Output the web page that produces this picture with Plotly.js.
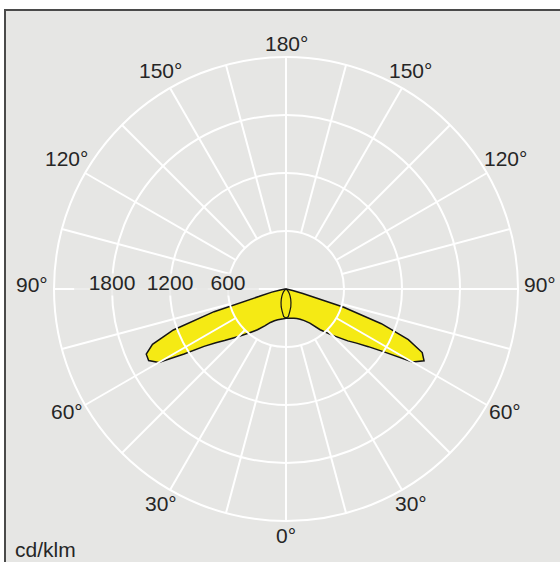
<!DOCTYPE html>
<html><head><meta charset="utf-8">
<script src="https://cdn.plot.ly/plotly-3.0.1.min.js"></script>
<style>html,body{margin:0;padding:0;background:#fff}#chart{width:560px;height:562px}</style>
</head><body><div id="chart"></div>
<script>
// Vertical angle gamma (deg) and luminous intensity (cd/klm)
const gammaMain = [0,5,10,15,20,25,30,35,40,45,50,52.5,55,57.5,60,62.5,65,67.5,70,72.5,75,77.5,80,85,90];
const intensityC0   = [302,304,308,314,326,346,378,430,550,675,835,920,1040,1220,1510,1610,1555,1370,1050,620,180,70,25,5,0];
const intensityC180 = [302,310,318,330,350,382,440,515,595,695,830,915,1035,1250,1520,1602,1595,1495,1240,780,260,150,60,10,0];
const gammaLens = [0,5,10,15,20,25,30,35,40,45,50,55,60];
const intensityC90  = [303,285,232,192,150,115,85,62,42,25,12,5,0];
const intensityC270 = [303,285,232,192,150,115,85,62,42,25,12,5,0];

// grid and labels
const gridAngles = [0,15,30,45,60,75,90,105,120,135,150,165,180,195,210,225,240,255,270,285,300,315,330,345];
const angLabelVals = [0,30,60,90,120,150,180,210,240,270,300,330];
const angLabelText = ['0°','30°','60°','90°','120°','150°','180°','150°','120°','90°','60°','30°'];
const radialTicks = [600,1200,1800,2400];
const radialLabelVals = [600,1200,1800];
const radialLabelText = ['600','1200','1800'];
const unitLabel = 'cd/klm';

// build closed outlines: right half theta = gamma, left half theta = 360 - gamma
const fillTheta = [], fillR = [];
for (let i = gammaMain.length - 1; i >= 0; i--) { fillTheta.push(gammaMain[i]); fillR.push(intensityC0[i]); }
for (let i = 0; i < gammaMain.length; i++) { fillTheta.push(360 - gammaMain[i]); fillR.push(intensityC180[i]); }
const lensTheta = [], lensR = [];
for (let i = gammaLens.length - 1; i >= 0; i--) { lensTheta.push(gammaLens[i]); lensR.push(intensityC90[i]); }
for (let i = 0; i < gammaLens.length; i++) { lensTheta.push(360 - gammaLens[i]); lensR.push(intensityC270[i]); }

const W = 560, H = 562, cx = 286, cy = 289, R = 232, RMAX = 2400;
const dom = {x: [(cx - R) / W, (cx + R) / W], y: [(H - cy - R) / H, (H - cy + R) / H]};
const GRAY = '#e6e6e4', TXT = '#262626';
const FONT = 'Liberation Sans, Arial, Helvetica, sans-serif';
const FS = 21;

// label placement helper: screen offset (right, down) in px -> polar (r, theta)
function toPolar(xr, yd) {
  const rpx = Math.hypot(xr, yd);
  let th = Math.atan2(xr, yd) * 180 / Math.PI;
  if (th < 0) th += 360;
  return {r: rpx / R * RMAX, theta: th};
}
const LIFT = 4.5;
const radPos = radialLabelVals.map(v => toPolar(-v / RMAX * R, -LIFT));

// angular labels just outside the outer ring (paper coordinates)
const angAnnotations = angLabelVals.map((t, i) => {
  const a = t * Math.PI / 180, s = Math.abs(Math.sin(a));
  const d = 246 + 8 * s;
  const px = cx + d * Math.sin(a), py = cy + d * Math.cos(a) - LIFT * s;
  return {text: angLabelText[i], xref: 'paper', yref: 'paper', x: px / W, y: (H - py) / H,
          xanchor: 'center', yanchor: 'middle', showarrow: false,
          font: {family: FONT, size: FS, color: TXT}};
});

const traces = [
  {type: 'scatterpolar', subplot: 'polar', r: fillR, theta: fillTheta, mode: 'lines',
   fill: 'toself', fillcolor: '#f5ea14', line: {color: '#151515', width: 1.5}, hoverinfo: 'skip'},
  {type: 'scatterpolar', subplot: 'polar', r: lensR, theta: lensTheta, mode: 'lines',
   line: {color: '#151515', width: 1.2}, hoverinfo: 'skip'},
  {type: 'scatterpolar', subplot: 'polar2', r: radPos.map(p => p.r), theta: radPos.map(p => p.theta),
   mode: 'markers', cliponaxis: false, hoverinfo: 'skip',
   marker: {symbol: 'line-ew', size: [44, 54, 54], color: GRAY, line: {color: GRAY, width: 22}}},
  {type: 'scatterpolar', subplot: 'polar2', r: radPos.map(p => p.r), theta: radPos.map(p => p.theta),
   mode: 'text', text: radialLabelText, textposition: 'middle center', cliponaxis: false, hoverinfo: 'skip',
   textfont: {family: FONT, size: FS, color: TXT}}
];

const layout = {
  width: W, height: H, margin: {l: 0, r: 0, t: 0, b: 0},
  paper_bgcolor: '#ffffff', showlegend: false,
  font: {family: FONT, size: FS, color: TXT},
  shapes: [{type: 'rect', xref: 'paper', yref: 'paper', x0: 5 / W, x1: 1.05, y0: -0.05, y1: 1 - 10 / H,
            fillcolor: GRAY, line: {color: '#4a4a4a', width: 2}, layer: 'below'}],
  polar: {
    domain: dom, bgcolor: 'rgba(0,0,0,0)',
    radialaxis: {visible: false, range: [0, RMAX]},
    angularaxis: {rotation: 270, direction: 'counterclockwise', tickvals: [0, 90, 180, 270],
                  showticklabels: false, ticks: '', showgrid: true, gridcolor: '#fff', gridwidth: 2, showline: false}
  },
  polar2: {
    domain: dom, bgcolor: 'rgba(0,0,0,0)', hole: 0.25,
    radialaxis: {range: [600, RMAX], tickvals: radialTicks, showticklabels: false, ticks: '',
                 showline: false, showgrid: true, gridcolor: '#fff', gridwidth: 2, layer: 'below traces'},
    angularaxis: {rotation: 270, direction: 'counterclockwise', tickvals: gridAngles, showticklabels: false,
                  ticks: '', showgrid: true, gridcolor: '#fff', gridwidth: 2, layer: 'below traces',
                  showline: true, linecolor: '#fff', linewidth: 2}
  },
  annotations: angAnnotations.concat([{text: unitLabel, xref: 'paper', yref: 'paper', x: 13 / W, y: (H - 549) / H,
                 xanchor: 'left', yanchor: 'middle', showarrow: false,
                 font: {family: FONT, size: FS, color: TXT}}])
};

Plotly.newPlot('chart', traces, layout, {displayModeBar: false, staticPlot: true});
</script></body></html>
